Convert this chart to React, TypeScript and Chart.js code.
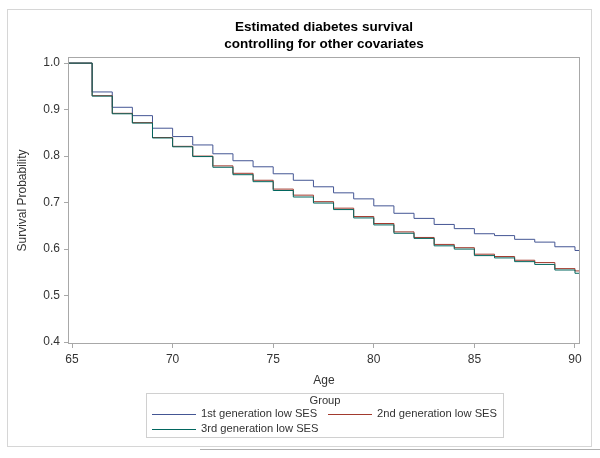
import React, { useEffect, useRef } from "react";
import { Chart, registerables } from "chart.js";

Chart.register(...registerables);

const TITLE_LINES = ["Estimated diabetes survival", "controlling for other covariates"];
const X_TITLE = "Age";
const Y_TITLE = "Survival Probability";
const LEGEND_TITLE = "Group";
const SERIES_NAMES = ["1st generation low SES", "2nd generation low SES", "3rd generation low SES"];
const SERIES_COLORS = ["#445694", "#A23A2E", "#01665E"];

const AGES = [65, 66, 67, 68, 69, 70, 71, 72, 73, 74, 75, 76, 77, 78, 79, 80, 81, 82, 83, 84, 85, 86, 87, 88, 89, 90];
const GEN1 = [1.0, 0.938, 0.905, 0.887, 0.86, 0.842, 0.824, 0.805, 0.79, 0.777, 0.762, 0.748, 0.734, 0.721, 0.708, 0.693, 0.677, 0.666, 0.653, 0.644, 0.633, 0.629, 0.621, 0.615, 0.605, 0.597];
const GEN2 = [1.0, 0.93, 0.892, 0.872, 0.84, 0.821, 0.8, 0.779, 0.763, 0.748, 0.729, 0.716, 0.702, 0.688, 0.67, 0.655, 0.637, 0.625, 0.61, 0.603, 0.589, 0.584, 0.576, 0.571, 0.558, 0.553];
const GEN3 = [1.0, 0.929, 0.891, 0.871, 0.839, 0.82, 0.799, 0.776, 0.76, 0.745, 0.726, 0.712, 0.699, 0.685, 0.667, 0.652, 0.634, 0.623, 0.607, 0.6, 0.586, 0.581, 0.573, 0.567, 0.555, 0.548];

const X_TICKS = [65, 70, 75, 80, 85, 90];
const Y_TICKS = [0.4, 0.5, 0.6, 0.7, 0.8, 0.9, 1.0];
const X_MIN = 64.85;
const X_MAX = 90.2;
const Y_MIN = 0.398;
const Y_MAX = 1.011;

const FONT = "'Liberation Sans', Arial, sans-serif";

function toPoints(values: number[]) {
  const pts = [{ x: X_MIN, y: values[0] }];
  AGES.forEach((a, i) => pts.push({ x: a, y: values[i] }));
  pts.push({ x: X_MAX, y: values[values.length - 1] });
  return pts;
}

const decorPlugin = {
  id: "decor",
  afterDraw(chart: any) {
    const ctx = chart.ctx as CanvasRenderingContext2D;
    const { left, right, top, bottom } = chart.chartArea;
    ctx.save();
    // outer frame
    ctx.strokeStyle = "#d6d6d6";
    ctx.lineWidth = 1;
    ctx.strokeRect(7.5, 9.5, 584, 437);
    // plot border
    ctx.strokeStyle = "#a8a8a8";
    ctx.strokeRect(Math.round(left) - 0.5, Math.round(top) - 0.5, Math.round(right - left) + 1, Math.round(bottom - top) + 1);
    // title
    ctx.fillStyle = "#000";
    ctx.textAlign = "center";
    ctx.textBaseline = "middle";
    ctx.font = `bold 13.5px ${FONT}`;
    const cx = (left + right) / 2;
    ctx.fillText(TITLE_LINES[0], cx, 27);
    ctx.fillText(TITLE_LINES[1], cx, 44);
    // axis titles
    ctx.fillStyle = "#333";
    ctx.font = `12px ${FONT}`;
    ctx.fillText(X_TITLE, cx, 381);
    ctx.save();
    ctx.translate(23, (top + bottom) / 2);
    ctx.rotate(-Math.PI / 2);
    ctx.fillText(Y_TITLE, 0, 0);
    ctx.restore();
    // legend
    ctx.strokeStyle = "#d0d0d0";
    ctx.strokeRect(146.5, 393.5, 357, 44);
    ctx.fillStyle = "#333";
    ctx.font = `11.2px ${FONT}`;
    ctx.fillText(LEGEND_TITLE, 325, 401);
    const items = [
      { lx: 152, y: 414 },
      { lx: 328, y: 414 },
      { lx: 152, y: 429 },
    ];
    ctx.textAlign = "left";
    items.forEach((it, i) => {
      ctx.strokeStyle = SERIES_COLORS[i];
      ctx.lineWidth = 1;
      ctx.beginPath();
      ctx.moveTo(it.lx, it.y + 0.5);
      ctx.lineTo(it.lx + 44, it.y + 0.5);
      ctx.stroke();
      ctx.fillText(SERIES_NAMES[i], it.lx + 49, it.y);
    });
    // bottom separator line
    ctx.strokeStyle = "#b0b0b0";
    ctx.beginPath();
    ctx.moveTo(200, 449.5);
    ctx.lineTo(600, 449.5);
    ctx.stroke();
    ctx.restore();
  },
};

export default function App() {
  const ref = useRef<HTMLCanvasElement>(null);
  useEffect(() => {
    if (!ref.current) return;
    const seriesValues = [GEN1, GEN2, GEN3];
    const chart = new Chart(ref.current, {
      type: "line",
      data: {
        datasets: seriesValues.map((v, i) => ({
          label: SERIES_NAMES[i],
          data: toPoints(v),
          borderColor: SERIES_COLORS[i],
          backgroundColor: SERIES_COLORS[i],
          borderWidth: 1,
          pointRadius: 0,
          stepped: "before" as const,
          fill: false,
          order: 3 - i,
        })),
      },
      options: {
        animation: false,
        responsive: false,
        devicePixelRatio: 1,
        layout: { padding: { left: 8, right: 21, top: 58, bottom: 85 } },
        plugins: {
          legend: { display: false },
          title: { display: false },
          tooltip: { enabled: false },
        },
        scales: {
          x: {
            type: "linear",
            min: X_MIN,
            max: X_MAX,
            afterBuildTicks: (s: any) => {
              s.ticks = X_TICKS.map((v) => ({ value: v }));
            },
            afterFit: (s: any) => {
              s.height = 30;
            },
            ticks: {
              font: { family: FONT, size: 12 },
              color: "#333",
              padding: 4,
              maxRotation: 0,
              autoSkip: false,
              callback: (v: any) => String(v),
            },
            grid: { drawOnChartArea: false, drawTicks: true, tickLength: 5, color: "#a8a8a8" },
            border: { display: false },
          },
          y: {
            type: "linear",
            min: Y_MIN,
            max: Y_MAX,
            afterBuildTicks: (s: any) => {
              s.ticks = Y_TICKS.map((v) => ({ value: v }));
            },
            afterFit: (s: any) => {
              s.width = 61;
            },
            ticks: {
              font: { family: FONT, size: 12 },
              color: "#333",
              padding: 4,
              autoSkip: false,
              callback: (v: any) => Number(v).toFixed(1),
            },
            grid: { drawOnChartArea: false, drawTicks: true, tickLength: 5, color: "#a8a8a8" },
            border: { display: false },
          },
        },
      },
      plugins: [decorPlugin],
    });
    return () => chart.destroy();
  }, []);
  return (
    <div style={{ position: "fixed", left: 0, top: 0, width: 600, height: 458, background: "#fff" }}>
      <canvas ref={ref} width={600} height={458} style={{ width: 600, height: 458, display: "block" }} />
    </div>
  );
}
